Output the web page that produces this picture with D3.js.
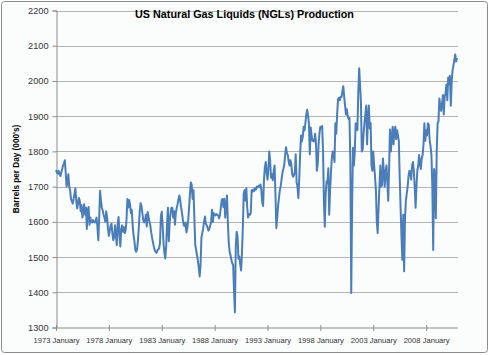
<!DOCTYPE html>
<html><head><meta charset="utf-8">
<script src="https://cdn.jsdelivr.net/npm/d3@7/dist/d3.min.js"></script>
<style>
html,body{margin:0;padding:0;background:#fff;}
svg text{font-family:"Liberation Sans",Arial,sans-serif;}
</style></head>
<body><svg id="c" width="490" height="355"></svg>
<script>
const startYear = 1973;
const monthNames = ["January","February","March","April","May","June","July","August","September","October","November","December"];
// Monthly US NGL production, thousand barrels per day, Jan 1973 - Dec 2010
const production = [
 1747,1740,1737,1745,1735,1730,1740,1750,1760,1765,1775,1740, // 1973
 1700,1715,1735,1700,1690,1665,1658,1652,1665,1680,1695,1660, // 1974
 1638,1652,1668,1660,1630,1648,1612,1628,1650,1620,1640,1580, // 1975
 1635,1642,1592,1612,1600,1598,1605,1600,1598,1603,1612,1585, // 1976
 1548,1610,1688,1660,1640,1632,1620,1612,1600,1630,1612,1580, // 1977
 1560,1575,1590,1595,1565,1548,1558,1590,1560,1534,1595,1614, // 1978
 1560,1530,1580,1590,1572,1585,1568,1575,1605,1665,1640,1662, // 1979
 1650,1625,1634,1590,1562,1545,1520,1515,1522,1548,1585,1630, // 1980
 1653,1645,1625,1605,1598,1605,1620,1587,1628,1615,1600,1590, // 1981
 1570,1555,1542,1530,1520,1515,1512,1518,1522,1525,1540,1615, // 1982
 1629,1590,1540,1512,1496,1530,1595,1640,1545,1600,1625,1640, // 1983
 1640,1612,1630,1592,1625,1640,1650,1665,1675,1660,1640,1625, // 1984
 1605,1590,1588,1598,1570,1582,1605,1640,1680,1712,1705,1665, // 1985
 1690,1610,1535,1520,1505,1490,1470,1445,1475,1555,1568,1582, // 1986
 1600,1615,1595,1590,1583,1575,1580,1590,1598,1634,1600,1625, // 1987
 1620,1618,1622,1620,1618,1610,1618,1640,1662,1665,1642,1665, // 1988
 1612,1645,1675,1600,1540,1515,1505,1492,1482,1478,1405,1343, // 1989
 1530,1572,1558,1495,1502,1480,1462,1510,1585,1680,1690,1660, // 1990
 1695,1640,1612,1622,1620,1625,1690,1685,1692,1688,1696,1692, // 1991
 1700,1698,1702,1700,1706,1690,1655,1645,1720,1755,1770,1740, // 1992
 1720,1752,1800,1772,1725,1735,1718,1742,1760,1680,1582,1612, // 1993
 1645,1668,1690,1702,1722,1740,1750,1762,1790,1812,1795,1790, // 1994
 1772,1760,1775,1765,1735,1728,1733,1742,1792,1712,1700,1668, // 1995
 1722,1790,1845,1828,1842,1870,1860,1880,1905,1918,1902,1878, // 1996
 1792,1868,1845,1830,1832,1828,1850,1822,1745,1765,1822,1852, // 1997
 1870,1868,1872,1800,1660,1586,1680,1715,1710,1752,1620,1690, // 1998
 1740,1782,1800,1790,1770,1880,1850,1905,1948,1952,1945,1955, // 1999
 1955,1970,1985,1955,1930,1905,1920,1900,1892,1895,1770,1398, // 2000
 1650,1810,1760,1800,1880,1870,1860,1970,2036,1990,1940,1800, // 2001
 1805,1850,1880,1905,1930,1820,1900,1930,1865,1880,1760,1745, // 2002
 1800,1760,1728,1690,1600,1568,1640,1700,1760,1700,1705,1780, // 2003
 1740,1700,1745,1760,1710,1660,1760,1862,1800,1840,1870,1820, // 2004
 1860,1870,1835,1860,1845,1830,1725,1640,1560,1492,1620,1460, // 2005
 1610,1660,1680,1700,1730,1745,1740,1720,1760,1770,1745,1700, // 2006
 1640,1700,1745,1760,1790,1765,1750,1780,1790,1820,1880,1830, // 2007
 1860,1845,1880,1875,1830,1815,1790,1700,1520,1750,1730,1610, // 2008
 1800,1880,1885,1950,1930,1915,1935,1960,1905,1955,1965,1990, // 2009
 1945,2010,1990,2015,1930,2000,2030,2045,2060,2075,2055,2065  // 2010
];
const categories = production.map((_, i) => (startYear + Math.floor(i / 12)) + " " + monthNames[i % 12]);
const xTickLabels = ["1973 January","1978 January","1983 January","1988 January","1993 January","1998 January","2003 January","2008 January"];
const yTicks = [1300,1400,1500,1600,1700,1800,1900,2000,2100,2200];
const title = "US Natural Gas Liquids (NGLs) Production";
const yTitle = "Barrels per Day (000's)";

const svg = d3.select("#c");
// chart area
svg.append("rect").attr("x",1.5).attr("y",1.5).attr("width",486).attr("height",351)
  .attr("rx",3).attr("fill","#fbfcfc").attr("stroke","#8c8c8c").attr("stroke-width",1);

const L = 56, R = 457, T = 10.5, B = 327.5;
const x = d3.scalePoint().domain(categories).range([L, R]);
const y = d3.scaleLinear().domain([1300, 2200]).range([B, T]);

// gridlines
svg.append("g").selectAll("line").data(yTicks.filter(v => v > 1300)).join("line")
  .attr("x1", L).attr("x2", R + 1).attr("y1", d => Math.round(y(d)) + 0.5).attr("y2", d => Math.round(y(d)) + 0.5)
  .attr("stroke", "#b4b4b4").attr("stroke-width", 1);

// y axis
const yAxis = d3.axisLeft(y).tickValues(yTicks).tickSize(4).tickPadding(4).tickFormat(d3.format("d"));
const gy = svg.append("g").attr("transform", `translate(${L + 0.5},0)`).call(yAxis);
gy.select(".domain").attr("stroke", "#8c8c8c");
gy.selectAll(".tick line").attr("stroke", "#8c8c8c");
gy.selectAll(".tick text").attr("font-size", 9.2).attr("fill", "#333");

// x axis
const xAxis = d3.axisBottom(x).tickValues(xTickLabels).tickSizeInner(3).tickSizeOuter(0).tickPadding(7);
const gx = svg.append("g").attr("transform", `translate(0,${B + 0.5})`).call(xAxis);
gx.select(".domain").attr("stroke", "#8c8c8c").attr("d", `M${L},0H${R + 1}`);
gx.selectAll(".tick line").attr("stroke", "#8c8c8c").attr("y1", -3);
gx.selectAll(".tick text").attr("font-size", 7.6).attr("fill", "#333");

// line
const line = d3.line().x((d, i) => x(categories[i])).y(d => y(d)).curve(d3.curveLinear);
svg.append("path").datum(production).attr("d", line)
  .attr("fill", "none").attr("stroke", "#4a7ebb").attr("stroke-width", 2).attr("stroke-linejoin", "round");

// titles
svg.append("text").attr("x", 244.5).attr("y", 18).attr("text-anchor", "middle")
  .attr("font-size", 10.8).attr("font-weight", "bold").attr("fill", "#000").text(title);
svg.append("text").attr("transform", `translate(18.5,${(T + B) / 2}) rotate(-90)`).attr("text-anchor", "middle")
  .attr("font-size", 8.2).attr("font-weight", "bold").attr("fill", "#000").text(yTitle);
</script></body></html>
